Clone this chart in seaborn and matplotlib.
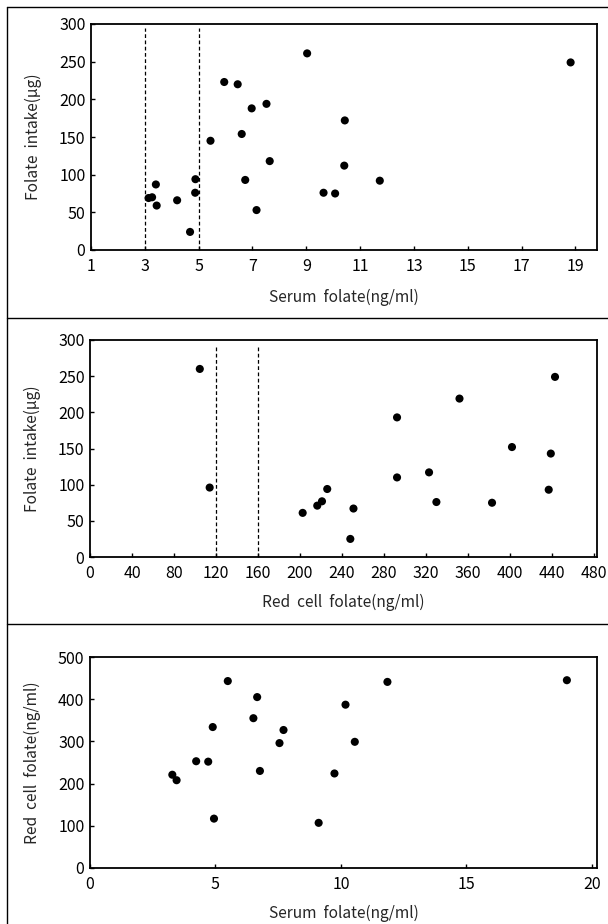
import numpy as np
import pandas as pd
import seaborn as sns
import matplotlib.pyplot as plt
from matplotlib.lines import Line2D

sns.set_theme(style="white")
plt.rcParams['font.family'] = ['Noto Sans CJK KR', 'DejaVu Sans']

# panel 1: serum folate vs folate intake
serum_a = [3.14, 3.27, 3.41, 3.44, 4.20, 4.68, 4.87, 4.88, 5.44, 5.95, 6.45, 6.60,
           6.73, 6.97, 7.15, 7.52, 7.64, 9.03, 9.64, 10.07, 10.43, 10.41, 11.73, 18.82]
intake_a = [69, 70, 87, 59, 66, 24, 76, 94, 145, 223, 220, 154,
            93, 188, 53, 194, 118, 261, 76, 75, 172, 112, 92, 249]
cut_a = [3, 5]

# panel 2: red cell folate vs folate intake
redcell_b = [104.6, 114, 202.6, 216.5, 221, 226, 248, 251, 292.5, 292.5,
             323, 330, 352, 383, 402, 437, 439, 443]
intake_b = [260, 96, 61, 71, 77, 94, 25, 67, 193, 110,
            117, 76, 219, 75, 152, 93, 143, 249]
cut_b = [120, 160]

# panel 3: serum folate vs red cell folate
serum_c = [3.28, 3.45, 4.23, 4.71, 4.89, 4.94, 5.49, 6.51, 6.66, 6.77,
           7.55, 7.71, 9.11, 9.74, 10.18, 10.55, 11.85, 19.0]
redcell_c = [221, 208, 253, 252, 334, 117, 443, 355, 405, 230,
             296, 327, 107, 224, 387, 299, 441, 445]

fig = plt.figure(figsize=(6.08, 9.24), dpi=100)

# outer frame and separators (pixel positions / figure size)
W, H = 608, 924
line_kw = dict(color='black', lw=1.0, transform=fig.transFigure)
fig.add_artist(Line2D([7 / W, 7 / W], [0, 1 - 7 / H], **line_kw))
for yy in [7, 318, 624]:
    fig.add_artist(Line2D([7 / W, 1], [1 - yy / H, 1 - yy / H], **line_kw))

FS = 11.2


def style_axes(ax):
    for sp in ax.spines.values():
        sp.set_color('black')
        sp.set_linewidth(1.3)
    ax.tick_params(direction='in', length=3, width=1, colors='black',
                   labelsize=11.5, bottom=True, left=True)
    ax.tick_params(axis='x', pad=6)
    ax.tick_params(axis='y', pad=4)


def px_axes(left, top, right, bottom):
    return fig.add_axes([left / W, 1 - bottom / H, (right - left) / W, (bottom - top) / H])


# panel 1
ax1 = px_axes(91, 24, 597, 250)
df1 = pd.DataFrame({'serum': serum_a, 'intake': intake_a})
sns.scatterplot(data=df1, x='serum', y='intake', ax=ax1, color='black',
                s=34, edgecolor='none')
for c in cut_a:
    ax1.plot([c, c], [0, 295], color='black', lw=0.9, dashes=(3, 2))
ax1.set_xlim(1, 19.8)
ax1.set_ylim(0, 300)
ax1.set_xticks(range(1, 20, 2))
ax1.set_yticks(range(0, 301, 50))
ax1.set_xlabel('Serum  folate(ng/ml)', fontsize=FS, labelpad=10)
ax1.set_ylabel('Folate  intake(μg)', fontsize=FS, labelpad=12)
style_axes(ax1)

# panel 2
ax2 = px_axes(90, 340, 597, 557)
df2 = pd.DataFrame({'redcell': redcell_b, 'intake': intake_b})
sns.scatterplot(data=df2, x='redcell', y='intake', ax=ax2, color='black',
                s=34, edgecolor='none')
for c in cut_b:
    ax2.plot([c, c], [0, 290], color='black', lw=0.9, dashes=(3, 2))
ax2.set_xlim(0, 483)
ax2.set_ylim(0, 300)
ax2.set_xticks(range(0, 481, 40))
ax2.set_yticks(range(0, 301, 50))
ax2.set_xlabel('Red  cell  folate(ng/ml)', fontsize=FS, labelpad=8)
ax2.set_ylabel('Folate  intake(μg)', fontsize=FS, labelpad=12)
style_axes(ax2)

# panel 3
ax3 = px_axes(90, 657, 597, 868)
df3 = pd.DataFrame({'serum': serum_c, 'redcell': redcell_c})
sns.scatterplot(data=df3, x='serum', y='redcell', ax=ax3, color='black',
                s=34, edgecolor='none')
ax3.set_xlim(0, 20.2)
ax3.set_ylim(0, 500)
ax3.set_xticks(range(0, 21, 5))
ax3.set_yticks(range(0, 501, 100))
ax3.set_xlabel('Serum  folate(ng/ml)', fontsize=FS, labelpad=8)
ax3.set_ylabel('Red  cell  folate(ng/ml)', fontsize=FS, labelpad=12)
style_axes(ax3)

fig.savefig('out.png', dpi=100)
